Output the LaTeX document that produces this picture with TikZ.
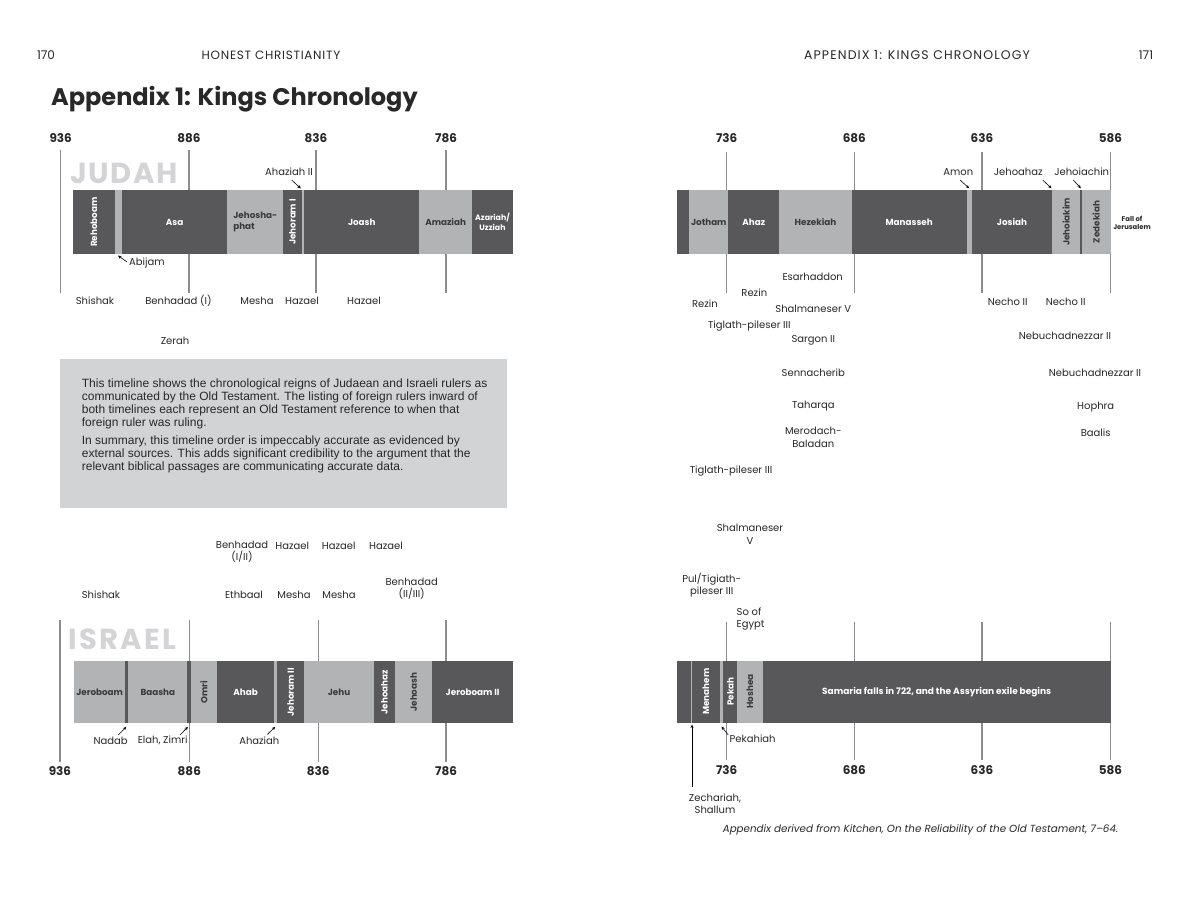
\documentclass[tikz,border=0pt]{standalone}
\usepackage{fontspec}
\setmainfont{Poppins}
\newfontfamily\bodyfont{Liberation Sans}
\usetikzlibrary{arrows.meta}
\definecolor{dk}{RGB}{88,88,90}
\definecolor{lt}{RGB}{178,179,181}
\definecolor{boxgray}{RGB}{210,211,213}
\definecolor{vlgray}{RGB}{140,140,142}
\definecolor{labc}{RGB}{40,40,40}
\definecolor{bigc}{RGB}{212,212,214}
\definecolor{segtxt}{RGB}{58,58,60}
\newcommand{\segdk}[5]{% name, x1, x2, ytop, ybot
  \fill[dk] (#2,#4) rectangle (#3,#5);
  \coordinate (#1) at ({(#2+#3)/2},{(#4+#5)/2});}
\newcommand{\seglt}[5]{%
  \fill[lt] (#2,#4) rectangle (#3,#5);
  \coordinate (#1) at ({(#2+#3)/2},{(#4+#5)/2});}
\begin{document}
\begin{tikzpicture}[x=1pt,y=-1pt,
  hdr/.style={font=\fontsize{12}{13}\selectfont, text=labc, inner sep=0},
  yr/.style={font=\bfseries\fontsize{12}{13}\selectfont, text=labc, inner sep=0},
  vl/.style={draw=vlgray, line width=1.4pt},
  lab/.style={font=\fontsize{10}{12.5}\selectfont, text=labc, inner sep=0, align=center},
  wlab/.style={font=\bfseries\fontsize{8.8}{10.5}\selectfont, text=white, inner sep=0, align=center},
  dlab/.style={font=\bfseries\fontsize{8.8}{10.5}\selectfont, text=segtxt, inner sep=0, align=center},
  arr/.style={draw=black, line width=0.6pt, -{Stealth[length=3.5pt,width=3pt]}},
  big/.style={font=\bfseries\fontsize{29}{30}\selectfont\addfontfeatures{LetterSpace=6}, text=bigc, inner sep=0, anchor=west}
]
\useasboundingbox[fill=white] (0,0) rectangle (1200,898);

% ---------- headers ----------
\node[hdr] (p170) at (46,55) {170};
\node[hdr, font=\fontsize{12}{13}\selectfont\addfontfeatures{LetterSpace=6}] (hc) at (271,55) {HONEST CHRISTIANITY};
\node[hdr, font=\fontsize{12.5}{13}\selectfont\addfontfeatures{LetterSpace=9}] (ak) at (917,55) {APPENDIX 1: KINGS CHRONOLOGY};
\node[hdr] (p171) at (1146,55) {171};
\node[anchor=west, inner sep=0, text=labc, font=\bfseries\fontsize{24}{27}\selectfont] (title) at (51,99) {Appendix 1: Kings Chronology};

% ---------- left page: vertical lines ----------
\foreach \x in {60.7,189,316,446} { \draw[vl] (\x,150) -- (\x,293); }
\foreach \x in {60,189.3,318.3,446} { \draw[vl] (\x,620) -- (\x,762); }
\node[yr] (l936) at (60.7,138) {936};
\node[yr] (l886) at (189,138) {886};
\node[yr] (l836) at (316,138) {836};
\node[yr] (l786) at (446,138) {786};
\node[yr] (b936) at (60,771) {936};
\node[yr] (b886) at (189.3,771) {886};
\node[yr] (b836) at (318.3,771) {836};
\node[yr] (b786) at (446,771) {786};

\node[big] (judah) at (70,173) {JUDAH};
\node[big, font=\bfseries\fontsize{29}{30}\selectfont\addfontfeatures{LetterSpace=8}] (israel) at (68,639) {ISRAEL};

% ---------- Judah bar (left) ----------
\segdk{rehoboam}{73.3}{114.7}{190}{254}
\seglt{abijam}{114.7}{122}{190}{254}
\segdk{asa}{122}{227.3}{190}{254}
\seglt{jehoshaphat}{227.3}{283.3}{190}{254}
\segdk{jehoramI}{283.3}{301.7}{190}{254}
\seglt{ahaziahII}{301.7}{304.3}{190}{254}
\segdk{joash}{304.3}{419.3}{190}{254}
\seglt{amaziah}{419.3}{472}{190}{254}
\segdk{azariah}{472}{513}{190}{254}
\node[wlab, rotate=90] (trehoboam) at (rehoboam) {Rehoboam};
\node[wlab] (tasa) at (asa) {Asa};
\node[dlab, align=left] (tjehoshaphat) at (jehoshaphat) {Jehosha-\\phat};
\node[wlab, rotate=90] (tjehoramI) at (jehoramI) {Jehoram I};
\node[wlab] (tjoash) at (joash) {Joash};
\node[dlab] (tamaziah) at (amaziah) {Amaziah};
\node[wlab, font=\bfseries\fontsize{7.8}{10}\selectfont] (tazariah) at (azariah) {Azariah/\\Uzziah};

\node[lab] (lahazII) at (289,172) {Ahaziah II};
\coordinate (ahzIIs) at (291.7,180);
\coordinate (ahzIIt) at (300.8,188.5);
\draw[arr] (ahzIIs) -- (ahzIIt);
\node[lab, anchor=west] (labijam) at (129,262.7) {Abijam};
\coordinate (abs) at (127,262);
\coordinate (abt) at (118,255.5);
\draw[arr] (abs) -- (abt);

% foreign rulers (Judah, left)
\node[lab] (f1) at (95,300.7) {Shishak};
\node[lab] (f2) at (178.5,300.7) {Benhadad (I)};
\node[lab] (f3) at (257,300.7) {Mesha};
\node[lab] (f4) at (302,300.7) {Hazael};
\node[lab] (f5) at (364,300.7) {Hazael};
\node[lab] (f6) at (175,340.7) {Zerah};

% ---------- text box ----------
\node[fill=boxgray, minimum width=446.7pt, minimum height=148.7pt, anchor=north west, inner sep=0] (infobox) at (60,359) {};
\node[anchor=north west, inner sep=0, align=left, text=labc, font=\bodyfont\fontsize{12}{12.7}\selectfont] (infotext) at (81.7,379) {This timeline shows the chronological reigns of Judaean and Israeli rulers as\\
communicated by the Old Testament. The listing of foreign rulers inward of\\
both timelines each represent an Old Testament reference to when that\\
foreign ruler was ruling.\\[5.9pt]
In summary, this timeline order is impeccably accurate as evidenced by\\
external sources. This adds significant credibility to the argument that the\\
relevant biblical passages are communicating accurate data.};

% foreign rulers (Israel, left)
\node[lab] (g1) at (242,551.8) {Benhadad\\(I/II)};
\node[lab] (g2) at (292.3,545.7) {Hazael};
\node[lab] (g3) at (338.7,545.7) {Hazael};
\node[lab] (g4) at (386,545.7) {Hazael};
\node[lab] (g5) at (101,594.5) {Shishak};
\node[lab] (g6) at (244,595.3) {Ethbaal};
\node[lab] (g7) at (294,595.3) {Mesha};
\node[lab] (g8) at (339,595.3) {Mesha};
\node[lab] (g9) at (411.7,588.5) {Benhadad\\(II/III)};

% ---------- Israel bar (left) ----------
\seglt{jeroboam}{74.3}{125}{660.7}{723.3}
\segdk{nadab}{125}{128.3}{660.7}{723.3}
\seglt{baasha}{128.3}{187.3}{660.7}{723.3}
\segdk{elah}{187.3}{190.7}{660.7}{723.3}
\seglt{omri}{190.7}{217.3}{660.7}{723.3}
\segdk{ahab}{217.3}{274}{660.7}{723.3}
\seglt{ahaziah}{274}{277.3}{660.7}{723.3}
\segdk{jehoramII}{277.3}{304}{660.7}{723.3}
\seglt{jehu}{304}{374}{660.7}{723.3}
\segdk{jehoahazI}{374}{395}{660.7}{723.3}
\seglt{jehoash}{395}{432.3}{660.7}{723.3}
\segdk{jeroboamII}{432.3}{513}{660.7}{723.3}
\node[dlab] (tjeroboam) at (jeroboam) {Jeroboam};
\node[dlab] (tbaasha) at (baasha) {Baasha};
\node[dlab, rotate=90] (tomri) at (omri) {Omri};
\node[wlab] (tahab) at (ahab) {Ahab};
\node[wlab, rotate=90] (tjehoramII) at (jehoramII) {Jehoram II};
\node[dlab] (tjehu) at (jehu) {Jehu};
\node[wlab, rotate=90] (tjehoahazI) at (jehoahazI) {Jehoahaz};
\node[dlab, rotate=90] (tjehoash) at (jehoash) {Jehoash};
\node[wlab] (tjeroboamII) at (jeroboamII) {Jeroboam II};

\node[lab] (lnadab) at (110.7,740.5) {Nadab};
\coordinate (nas) at (118.3,735); \coordinate (nat) at (126.3,726.8);
\draw[arr] (nas) -- (nat);
\node[lab] (lelah) at (162.7,740.5) {Elah, Zimri};
\coordinate (els) at (180,735); \coordinate (elt) at (188,726.8);
\draw[arr] (els) -- (elt);
\node[lab] (lahaziah) at (259.3,740.5) {Ahaziah};
\coordinate (ahs) at (267.3,734.5); \coordinate (aht) at (275.3,726.8);
\draw[arr] (ahs) -- (aht);

% ---------- right page ----------
\foreach \x in {726.7,854.3,982,1110.7} { \draw[vl] (\x,151.7) -- (\x,293.3); \draw[vl] (\x,621.7) -- (\x,760); }
\node[yr] (r736) at (726.7,138.3) {736};
\node[yr] (r686) at (854.3,138.3) {686};
\node[yr] (r636) at (982,138.3) {636};
\node[yr] (r586) at (1110.5,138.3) {586};
\node[yr] (s736) at (726.7,770.5) {736};
\node[yr] (s686) at (854.3,770.5) {686};
\node[yr] (s636) at (982,770.5) {636};
\node[yr] (s586) at (1110.5,770.5) {586};

% Judah bar (right)
\segdk{azcont}{677.3}{689.3}{190}{254}
\seglt{jotham}{689.3}{728.3}{190}{254}
\segdk{ahaz}{728.3}{779.3}{190}{254}
\seglt{hezekiah}{779.3}{851.7}{190}{254}
\segdk{manasseh}{851.7}{966.7}{190}{254}
\seglt{amon}{966.7}{971.7}{190}{254}
\segdk{josiah}{971.7}{1052.3}{190}{254}
\seglt{jehoiakim}{1052.3}{1080}{190}{254}
\segdk{jehoiachin}{1080}{1081.7}{190}{254}
\seglt{zedekiah}{1081.7}{1110.7}{190}{254}
\node[dlab] (tjotham) at (jotham) {Jotham};
\node[wlab] (tahaz) at (ahaz) {Ahaz};
\node[dlab] (thezekiah) at (hezekiah) {Hezekiah};
\node[wlab] (tmanasseh) at (manasseh) {Manasseh};
\node[wlab] (tjosiah) at (josiah) {Josiah};
\node[dlab, rotate=90] (tjehoiakim) at (jehoiakim) {Jehoiakim};
\node[dlab, rotate=90] (tzedekiah) at (zedekiah) {Zedekiah};
\node[font=\bfseries\fontsize{6.8}{8}\selectfont, text=labc, inner sep=0, align=center] (fall) at (1132,222.5) {Fall of\\Jerusalem};

\node[lab] (lamon) at (958.3,171.7) {Amon};
\coordinate (ams) at (960,180); \coordinate (amt) at (969.2,188.3);
\draw[arr] (ams) -- (amt);
\node[lab] (ljehoahaz) at (1018.3,171.7) {Jehoahaz};
\coordinate (jhs) at (1042.7,180); \coordinate (jht) at (1051.5,188.3);
\draw[arr] (jhs) -- (jht);
\node[lab] (ljehoiachin) at (1081.7,171.7) {Jehoiachin};
\coordinate (jcs) at (1073.3,180); \coordinate (jct) at (1080.9,188.3);
\draw[arr] (jcs) -- (jct);

% foreign rulers (Judah, right)
\node[lab] (h1) at (812.7,276.7) {Esarhaddon};
\node[lab] (h2) at (754.3,292.3) {Rezin};
\node[lab] (h3) at (705,303.3) {Rezin};
\node[lab] (h4) at (813.3,309.3) {Shalmaneser V};
\node[lab] (h5) at (749.3,325.7) {Tiglath-pileser III};
\node[lab] (h6) at (813.3,340) {Sargon II};
\node[lab] (h7) at (813.3,372.7) {Sennacherib};
\node[lab] (h8) at (813.3,405.7) {Taharqa};
\node[lab] (h9) at (813.3,437.2) {Merodach-\\Baladan};
\node[lab] (h10) at (731,471) {Tiglath-pileser III};
\node[lab] (h11) at (1007.7,302.3) {Necho II};
\node[lab] (h12) at (1065.7,302.3) {Necho II};
\node[lab] (h13) at (1065,336) {Nebuchadnezzar II};
\node[lab] (h14) at (1095,372.7) {Nebuchadnezzar II};
\node[lab] (h15) at (1095.7,407.3) {Hophra};
\node[lab] (h16) at (1095.7,432.7) {Baalis};

% foreign rulers (Israel, right)
\node[lab] (k1) at (750,534.2) {Shalmaneser\\V};
\node[lab] (k2) at (711.7,585.3) {Pul/Tigiath-\\pileser III};
\node[lab, align=left, anchor=west] (k3) at (736.5,619.2) {So of\\Egypt};

% Israel bar (right)
\segdk{jbcont}{677.3}{690.7}{660.7}{722.7}
\seglt{zechariah}{690.7}{692}{660.7}{722.7}
\segdk{menahem}{692}{720}{660.7}{722.7}
\seglt{pekahiah}{720}{723.3}{660.7}{722.7}
\segdk{pekah}{723.3}{737.3}{660.7}{722.7}
\seglt{hoshea}{737.3}{762.7}{660.7}{722.7}
\segdk{samaria}{762.7}{1110.7}{660.7}{722.7}
\node[wlab, rotate=90] (tmenahem) at (menahem) {Menahem};
\node[wlab, rotate=90] (tpekah) at (pekah) {Pekah};
\node[dlab, rotate=90] (thoshea) at (hoshea) {Hoshea};
\node[wlab, font=\bfseries\fontsize{9}{10.5}\selectfont] (tsamaria) at (samaria) {Samaria falls in 722, and the Assyrian exile begins};

\node[lab, anchor=west] (lpekahiah) at (729.5,738.5) {Pekahiah};
\coordinate (pks) at (728.3,735); \coordinate (pkt) at (721.5,726.5);
\draw[arr] (pks) -- (pkt);
\node[lab] (lzech) at (715,803.7) {Zechariah,\\Shallum};
\coordinate (zcs) at (692,787); \coordinate (zct) at (692,724.5);
\draw[arr] (zcs) -- (zct);

% footnote
\node[inner sep=0, text=labc, font=\itshape\fontsize{10.3}{12}\selectfont] (foot) at (920.5,830) {Appendix derived from Kitchen, On the Reliability of the Old Testament, 7–64.};
\end{tikzpicture}
\end{document}
